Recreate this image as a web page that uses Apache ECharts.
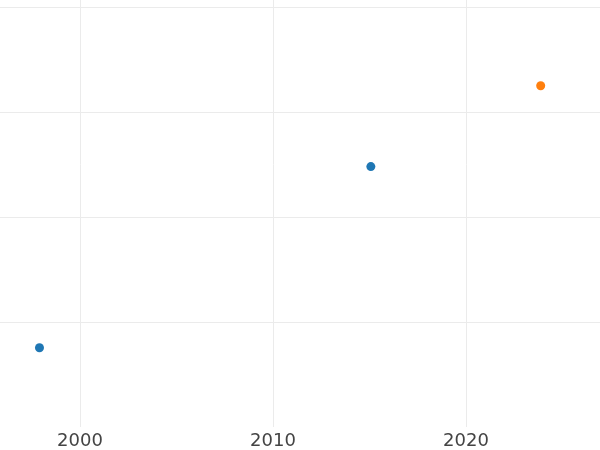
<!DOCTYPE html>
<html><head><meta charset="utf-8">
<script src="https://cdn.jsdelivr.net/npm/echarts@6/dist/echarts.min.js"></script>
<style>html,body{margin:0;padding:0;background:#fff;overflow:hidden;width:600px;height:450px;position:relative}
#c{position:absolute;left:-113.5px;top:-98px;width:772px;height:548px}</style>
</head><body><div id="c"></div>
<script>
var seriesA = [[1997.9, 7.55], [2015.07, 24.8]];
var seriesB = [[2023.87, 32.5]];
var xTicks = [1990, 2000, 2010, 2020, 2030];
var chart = echarts.init(document.getElementById('c'));
chart.setOption({
  animation: false,
  grid: {left: 0, right: 0, top: 0, bottom: 23, containLabel: false, outerBoundsMode: 'none'},
  xAxis: {
    type: 'value', min: xTicks[0], max: xTicks[xTicks.length-1], interval: 10,
    axisLine: {show: false}, axisTick: {show: false},
    axisLabel: {fontFamily: 'DejaVu Sans', fontSize: 18, color: '#444', margin: 5,
      formatter: function (v) { return String(v); }},
    splitLine: {show: true, lineStyle: {color: '#ebebeb', width: 1}}
  },
  yAxis: {
    type: 'value', min: 0, max: 50, interval: 10,
    axisLine: {show: false}, axisTick: {show: false}, axisLabel: {show: false},
    splitLine: {show: true, showMinLine: false, lineStyle: {color: '#ebebeb', width: 1}}
  },
  series: [
    {type: 'scatter', data: seriesA, symbolSize: 9, itemStyle: {color: '#1f77b4', opacity: 1}},
    {type: 'scatter', data: seriesB, symbolSize: 9, itemStyle: {color: '#ff7f0e', opacity: 1}}
  ]
});
</script></body></html>
